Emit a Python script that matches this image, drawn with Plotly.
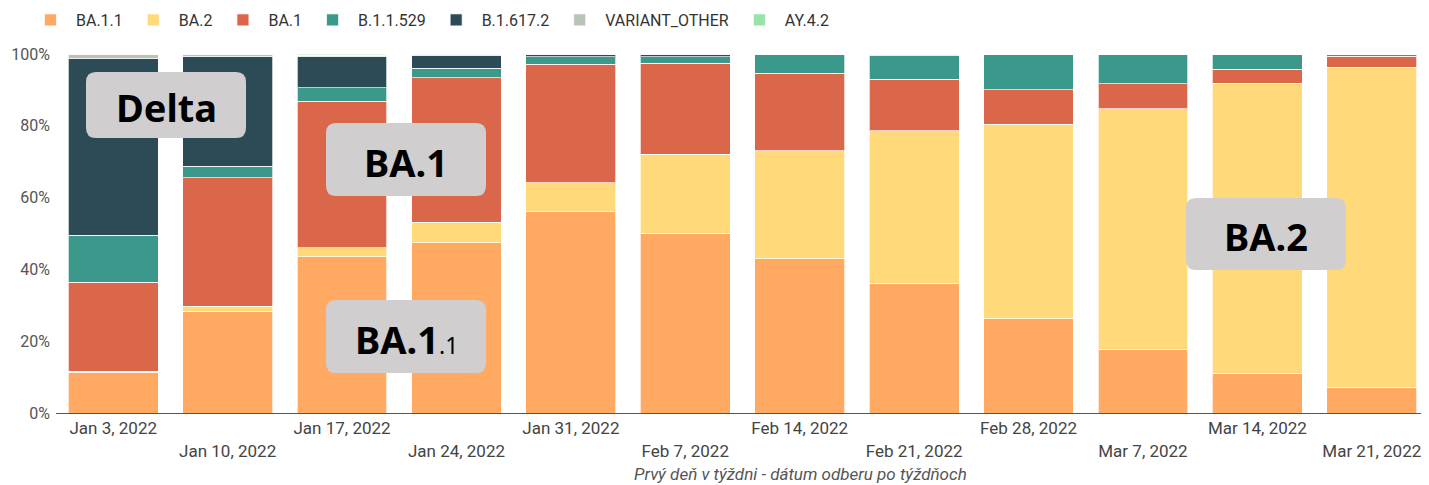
import plotly.graph_objects as go

weeks = ["2022-01-03", "2022-01-10", "2022-01-17", "2022-01-24", "2022-01-31", "2022-02-07",
         "2022-02-14", "2022-02-21", "2022-02-28", "2022-03-07", "2022-03-14", "2022-03-21"]
tick_labels = ["Jan 3, 2022", "Jan 10, 2022", "Jan 17, 2022", "Jan 24, 2022", "Jan 31, 2022", "Feb 7, 2022",
               "Feb 14, 2022", "Feb 21, 2022", "Feb 28, 2022", "Mar 7, 2022", "Mar 14, 2022", "Mar 21, 2022"]
y_ticks = [0, 20, 40, 60, 80, 100]
y_tick_labels = ["0%", "20%", "40%", "60%", "80%", "100%"]

ba_1_1 = [11.4, 28.4, 43.5, 47.4, 56.0, 50.1, 42.9, 36.2, 26.2, 17.8, 11.1, 7.2]
ba_2 = [0.2, 1.4, 2.5, 5.8, 8.1, 22.0, 30.1, 42.4, 54.3, 66.9, 80.7, 89.1]
ba_1 = [24.8, 35.7, 40.9, 40.2, 33.1, 25.3, 21.6, 14.3, 9.5, 7.0, 3.9, 3.1]
b_1_1_529 = [13.1, 3.2, 3.7, 2.6, 2.0, 1.8, 5.4, 6.6, 10.0, 8.3, 4.3, 0.6]
b_1_617_2 = [49.2, 30.7, 8.6, 3.6, 0.7, 0.7, 0.0, 0.0, 0.0, 0.0, 0.0, 0.0]
variant_other = [1.3, 0.6, 0.4, 0.4, 0.1, 0.1, 0.0, 0.5, 0.0, 0.0, 0.0, 0.0]
ay_4_2 = [0.0, 0.0, 0.4, 0.0, 0.0, 0.0, 0.0, 0.0, 0.0, 0.0, 0.0, 0.0]

series_names = ["BA.1.1", "BA.2", "BA.1", "B.1.1.529", "B.1.617.2", "VARIANT_OTHER", "AY.4.2"]
series_values = [ba_1_1, ba_2, ba_1, b_1_1_529, b_1_617_2, variant_other, ay_4_2]
series_colors = ["#FFA963", "#FFD97A", "#DB674B", "#3A998B", "#2C4B57", "#B8C4B8", "#98E3A8"]

fig = go.Figure()
for name, vals, col in zip(series_names, series_values, series_colors):
    fig.add_trace(go.Bar(
        x=weeks, y=vals, name=name,
        marker=dict(color=col, line=dict(color="rgba(255,255,255,0.7)", width=1)),
    ))

# page body has an 8px margin; work in reference-image pixels and convert
OFF = 8
W, H = 1429 - OFF, 485 - OFF
ML, MR, MT, MB = 56 - OFF, 0, 54 - OFF, 72
PW, PH = W - ML - MR, H - MT - MB

def px(x):
    return (x - OFF - ML) / PW

def py(y):
    return (H - MB - (y - OFF)) / PH

def rounded(x0, y0, x1, y1, r=10):
    X0, X1 = px(x0), px(x1)
    Y0, Y1 = py(y1), py(y0)  # bottom, top in paper
    rx, ry = r / PW, r / PH
    return (f"M {X0+rx},{Y0} L {X1-rx},{Y0} Q {X1},{Y0} {X1},{Y0+ry} "
            f"L {X1},{Y1-ry} Q {X1},{Y1} {X1-rx},{Y1} L {X0+rx},{Y1} "
            f"Q {X0},{Y1} {X0},{Y1-ry} L {X0},{Y0+ry} Q {X0},{Y0} {X0+rx},{Y0} Z")

boxes = [
    (86, 72, 246, 138, "<b>Delta</b>"),
    (326, 123, 486, 196, "<b>BA.1</b>"),
    (326, 300, 486, 373, "<b>BA.1</b><span style='font-size:23px'>.1</span>"),
    (1186, 198, 1346, 270, "<b>BA.2</b>"),
]
for x0, y0, x1, y1, txt in boxes:
    fig.add_shape(type="path", path=rounded(x0, y0, x1, y1), xref="paper", yref="paper",
                  fillcolor="#D0CECF", line=dict(width=0), layer="above")
    fig.add_annotation(x=px((x0 + x1) / 2), y=py((y0 + y1) / 2 + 2), xref="paper", yref="paper",
                       xanchor="center", yanchor="middle",
                       text=txt, showarrow=False,
                       font=dict(family="Noto Sans", size=38, color="#000000"))

fig.add_annotation(x=px(800), y=py(474), xref="paper", yref="paper", showarrow=False,
                   xanchor="center", yanchor="middle",
                   text="<i>Prvý deň v týždni - dátum odberu po týždňoch</i>",
                   font=dict(family="Roboto", size=17, color="#555555"))

ticktext = [t if i % 2 == 0 else "<br>" + t for i, t in enumerate(tick_labels)]

fig.update_layout(
    width=W, height=H,
    margin=dict(l=ML, r=MR, t=MT, b=MB, autoexpand=False),
    barmode="stack", barnorm="percent", bargap=0.215,
    plot_bgcolor="white", paper_bgcolor="white",
    font=dict(family="Roboto", size=16, color="#444444"),
    legend=dict(orientation="h", x=-0.0226, xanchor="left", y=py(20), yanchor="middle",
                font=dict(family="Roboto", size=16, color="#333333"), traceorder="normal",
                itemwidth=41),
    xaxis=dict(type="category", tickmode="array", tickvals=weeks, ticktext=ticktext,
               showgrid=False, showline=True, linecolor="#555555", linewidth=1,
               ticks="", tickfont=dict(size=17, color="#444444")),
    yaxis=dict(range=[0, 100], tickmode="array", tickvals=y_ticks, ticktext=y_tick_labels,
               showgrid=False, zeroline=False, ticks="", ticklabelstandoff=5,
               tickfont=dict(size=16, color="#555555")),
)

fig.write_html("out.html")
